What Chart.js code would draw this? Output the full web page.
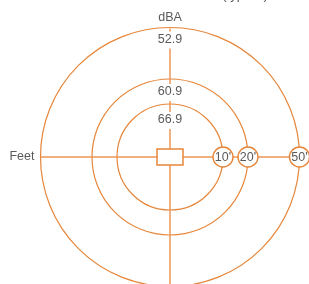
<!DOCTYPE html>
<html>
<head>
<meta charset="utf-8">
<script src="https://cdn.jsdelivr.net/npm/chart.js@4"></script>
<style>
  html, body { margin: 0; padding: 0; background: #fff; }
  canvas { display: block; }
</style>
</head>
<body>
<canvas id="soundChart" width="309" height="284"></canvas>
<script>
// Chart data
const ringFeet = [10, 20, 50];
const ringLabels = ["10'", "20'", "50'"];
const dbaLevels = [66.9, 60.9, 52.9];
const levelUnit = 'dBA';
const distanceUnit = 'Feet';
const subtitle = '(typical)';

// Layout of the schematic (chart units, 1 unit = 1px, centre at 0,0)
const ringRadius = [53, 78, 129.5];
const levelY = [37, 65, 117.5];

// Colours and fonts
const orange = 'rgb(230, 134, 58)';
const lineOrange = 'rgb(236, 150, 86)';
const textColor = '#5a5a5a';
const font = '12.5px "Liberation Sans", Arial, sans-serif';

const ringMarkers = ringFeet.map((f, i) => ({ x: ringRadius[i], y: 0, label: ringLabels[i] }));
const outer = ringRadius[ringRadius.length - 1];

// Rings drawn under the datasets
const ringsPlugin = {
  id: 'rings',
  beforeDatasetsDraw(chart) {
    const { ctx } = chart;
    const { x, y } = chart.scales;
    const cx = x.getPixelForValue(0);
    const cy = y.getPixelForValue(0);
    ctx.save();
    ctx.strokeStyle = orange;
    ctx.lineWidth = 1.2;
    ringRadius.forEach(r => {
      const rp = x.getPixelForValue(r) - cx;
      ctx.beginPath();
      ctx.arc(cx, cy, rp, 0, Math.PI * 2);
      ctx.stroke();
    });
    ctx.restore();
  }
};

// Source box, labels and texts on top
const labelsPlugin = {
  id: 'labels',
  afterDatasetsDraw(chart) {
    const { ctx } = chart;
    const { x, y } = chart.scales;
    const cx = x.getPixelForValue(0);
    const cy = y.getPixelForValue(0);
    ctx.save();

    // source box
    const bx1 = x.getPixelForValue(-13), bx2 = x.getPixelForValue(13);
    const by1 = y.getPixelForValue(8), by2 = y.getPixelForValue(-8);
    ctx.fillStyle = '#fff';
    ctx.fillRect(bx1, by1, bx2 - bx1, by2 - by1);
    ctx.strokeStyle = orange;
    ctx.lineWidth = 1.5;
    ctx.strokeRect(bx1, by1, bx2 - bx1, by2 - by1);

    ctx.font = font;
    ctx.fillStyle = textColor;
    ctx.textAlign = 'center';
    ctx.textBaseline = 'middle';

    // distance labels inside the small circles
    ringMarkers.forEach(m => {
      ctx.fillText(m.label, x.getPixelForValue(m.x), y.getPixelForValue(m.y) + 0.5);
    });

    // dBA levels with white backdrop over the vertical line
    dbaLevels.forEach((v, i) => {
      const py = y.getPixelForValue(levelY[i]);
      ctx.fillStyle = '#fff';
      ctx.fillRect(cx - 14, py - 8, 28, 17);
      ctx.fillStyle = textColor;
      ctx.fillText(v.toFixed(1), cx, py);
    });

    ctx.fillText(levelUnit, cx, y.getPixelForValue(139));

    ctx.textAlign = 'right';
    ctx.fillText(distanceUnit, x.getPixelForValue(-135.5), cy);

    // title, mostly outside the picture
    ctx.textAlign = 'center';
    ctx.textBaseline = 'alphabetic';
    ctx.font = '13px "Liberation Sans", Arial, sans-serif';
    ctx.fillText(subtitle, x.getPixelForValue(75), -1.5);

    ctx.restore();
  }
};

new Chart(document.getElementById('soundChart'), {
  type: 'scatter',
  data: {
    datasets: [
      {
        label: 'Distance',
        data: ringMarkers,
        pointRadius: 10,
        pointBackgroundColor: '#fff',
        pointBorderColor: orange,
        pointBorderWidth: 1.4,
        showLine: false
      },
      {
        label: 'Horizontal axis',
        data: [{ x: -outer, y: 0 }, { x: outer, y: 0 }],
        showLine: true,
        borderColor: lineOrange,
        borderWidth: 1.3,
        pointRadius: 0
      },
      {
        label: 'Vertical axis',
        data: [{ x: 0, y: outer - 1 }, { x: 0, y: -160 }],
        showLine: true,
        borderColor: lineOrange,
        borderWidth: 1.5,
        pointRadius: 0
      }
    ]
  },
  options: {
    responsive: false,
    animation: false,
    layout: { padding: 0, autoPadding: false },
    plugins: {
      legend: { display: false },
      tooltip: { enabled: false }
    },
    scales: {
      x: { type: 'linear', min: -170, max: 139, display: false },
      y: { type: 'linear', min: -127, max: 157, display: false }
    }
  },
  plugins: [ringsPlugin, labelsPlugin]
});
</script>
</body>
</html>
